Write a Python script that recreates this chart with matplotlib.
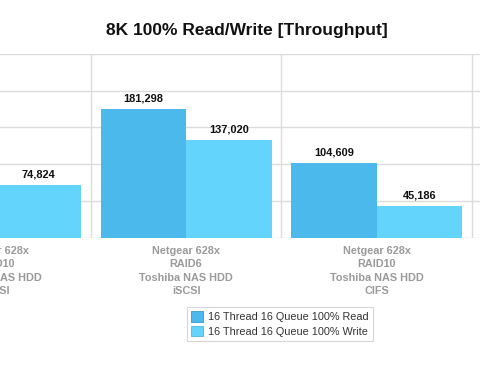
import matplotlib
matplotlib.use("Agg")
import matplotlib.pyplot as plt
from matplotlib.patches import Patch
import numpy as np

categories = [
    "Netgear 628x\nRAID10\nToshiba NAS HDD\niSCSI",
    "Netgear 628x\nRAID6\nToshiba NAS HDD\niSCSI",
    "Netgear 628x\nRAID10\nToshiba NAS HDD\nCIFS",
]
read_vals = [None, 181298, 104609]
write_vals = [74824, 137020, 45186]
series_names = ["16 Thread 16 Queue 100% Read", "16 Thread 16 Queue 100% Write"]
title = "8K 100% Read/Write [Throughput]"

READ_C = "#4BB9EB"
WRITE_C = "#63D4FC"
GRID_C = "#DCDCDC"

plt.rcParams['font.family'] = ['Liberation Sans', 'DejaVu Sans']

fig = plt.figure(figsize=(4.8, 3.74), dpi=100)
fig.patch.set_facecolor("white")
ax = fig.add_axes([-100/480, 136.3/374, 591.2/480, 183.7/374])
ax.set_facecolor("white")

x = np.arange(len(categories))
bw = 0.448
ymax = 258800

for i in x:
    if read_vals[i] is not None:
        ax.bar(i - bw/2, read_vals[i], width=bw, color=READ_C, zorder=3, linewidth=0)
        ax.text(i - bw/2, read_vals[i] + ymax*0.03, f"{read_vals[i]:,}", ha="center", va="bottom",
                fontsize=7.9, fontweight="bold", color="#111111", zorder=4)
    if write_vals[i] is not None:
        ax.bar(i + bw/2, write_vals[i], width=bw, color=WRITE_C, zorder=3, linewidth=0)
        ax.text(i + bw/2, write_vals[i] + ymax*0.03, f"{write_vals[i]:,}", ha="center", va="bottom",
                fontsize=7.9, fontweight="bold", color="#111111", zorder=4)

ax.set_xlim(-0.5, 2.6)
ax.set_ylim(0, ymax)
ax.set_yticks(np.linspace(0, ymax, 6))
ax.set_yticklabels([])
ax.tick_params(axis="y", length=0)
ax.set_xticks(x)
ax.set_xticklabels(categories, fontsize=7.8, fontweight="bold", color="#9A9A9A", linespacing=1.42)
ax.tick_params(axis="x", length=0, pad=6)
ax.set_xticks(np.arange(-0.5, 3.0, 1.0), minor=True)
ax.tick_params(axis="x", which="minor", length=0)
ax.grid(True, axis="y", color=GRID_C, linewidth=1, zorder=0)
ax.grid(True, axis="x", which="minor", color=GRID_C, linewidth=1, zorder=0)
ax.grid(False, axis="x", which="major")
for s in ax.spines.values():
    s.set_visible(False)

fig.text(247/480, 1 - 30/374, title, ha="center", va="center", fontsize=12.5, fontweight="bold", color="#111111")

handles = [Patch(facecolor=READ_C, edgecolor="#3A9CC8", linewidth=0.6),
           Patch(facecolor=WRITE_C, edgecolor="#4FB5DD", linewidth=0.6)]
leg = fig.legend(handles, series_names, loc="center", bbox_to_anchor=(280/480, 1 - 324/374),
                 fontsize=7.8, frameon=True, fancybox=False, handlelength=1.1, handleheight=1.1,
                 handletextpad=0.5, borderpad=0.4, labelspacing=0.3, borderaxespad=0)
leg.get_frame().set_edgecolor("#CCCCCC")
leg.get_frame().set_linewidth(0.8)
for t in leg.get_texts():
    t.set_color("#333333")

fig.savefig("out.png", dpi=100, facecolor="white")
